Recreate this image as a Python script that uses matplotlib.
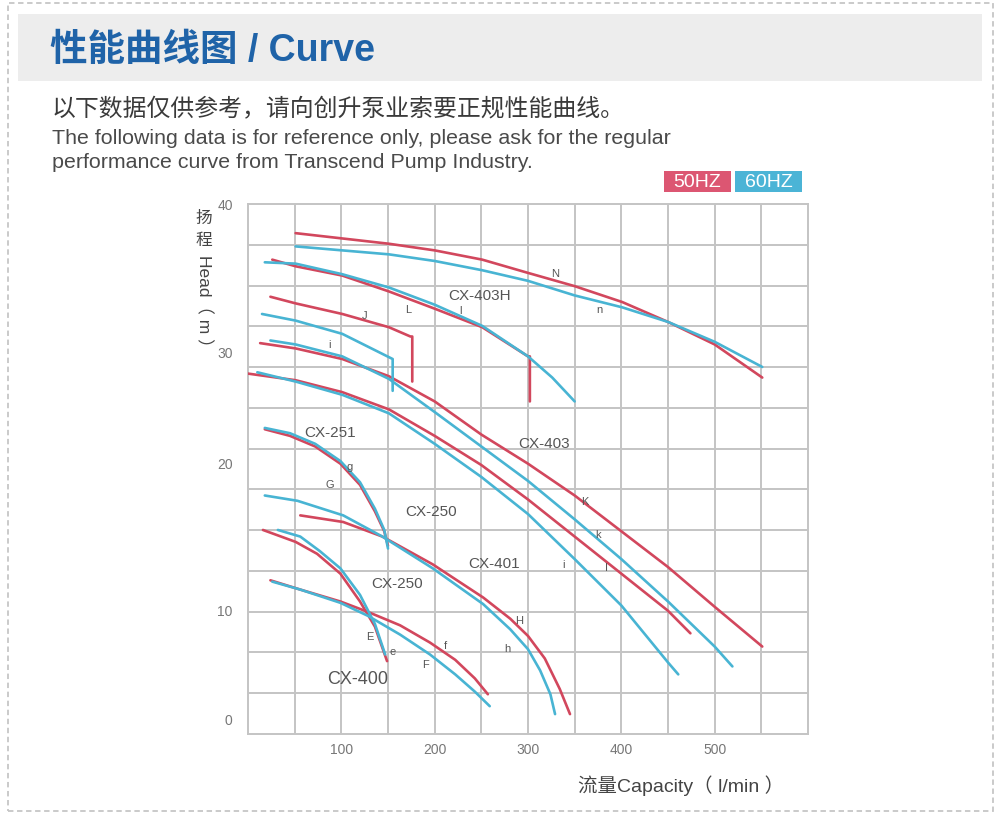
import matplotlib
matplotlib.use("Agg")
import matplotlib.pyplot as plt
from matplotlib.patches import Rectangle

CJK = ["Noto Sans CJK SC", "DejaVu Sans"]
MIX = ["Liberation Sans", "Noto Sans CJK SC"]   # latin in Helvetica-like, CJK falls through

# ---- data: flow (l/min) vs head (m) ----
# N / n  (top pair)
N_q = [51, 101, 151, 200, 251, 300, 350, 401, 450, 500, 551]
N_h = [37.8, 37.4, 37.0, 36.5, 35.8, 34.8, 33.8, 32.6, 31.1, 29.4, 26.9]
n_q = [51, 101, 151, 200, 251, 300, 350, 401, 450, 500, 551]
n_h = [36.8, 36.5, 36.2, 35.7, 35.0, 34.2, 33.1, 32.2, 31.1, 29.6, 27.7]

# L / l  (CX-403H)
L_q = [26, 51, 101, 151, 200, 251, 300, 302, 302]
L_h = [35.8, 35.3, 34.6, 33.4, 32.1, 30.7, 28.5, 28.5, 25.1]
l_q = [18, 51, 101, 151, 200, 251, 300, 326, 350]
l_h = [35.6, 35.5, 34.7, 33.7, 32.4, 30.8, 28.5, 26.9, 25.1]

# J / I
J_q = [24, 51, 101, 151, 174, 176, 176]
J_h = [33.0, 32.5, 31.7, 30.7, 30.0, 30.0, 26.6]
I_q = [15, 51, 101, 155, 155]
I_h = [31.7, 31.2, 30.2, 28.3, 25.9]

# K / k  (CX-403)
K_q = [13, 51, 101, 151, 200, 250, 300, 350, 400, 450, 500, 551]
K_h = [29.5, 29.1, 28.3, 27.0, 25.1, 22.6, 20.4, 18.0, 15.3, 12.6, 9.6, 6.6]
k_q = [24, 51, 101, 151, 200, 250, 300, 350, 400, 450, 500, 519]
k_h = [29.7, 29.4, 28.5, 26.8, 24.3, 21.7, 19.1, 16.2, 13.2, 10.0, 6.6, 5.1]

# long pair under CX-403 (I / i next to CX-401 text)
R_q = [0, 51, 101, 151, 200, 250, 300, 350, 400, 450, 474]
R_h = [27.2, 26.7, 25.8, 24.5, 22.5, 20.3, 17.7, 14.9, 12.1, 9.3, 7.6]
r_q = [10, 51, 101, 151, 200, 250, 300, 350, 400, 450, 461]
r_h = [27.3, 26.6, 25.6, 24.2, 21.9, 19.4, 16.6, 13.2, 9.7, 5.4, 4.5]

# G / g  (CX-251)
G_q = [18, 45, 72, 99, 120, 136, 146, 150]
G_h = [23.0, 22.5, 21.7, 20.4, 18.8, 16.8, 15.3, 14.2]
g_q = [18, 45, 72, 99, 120, 136, 146, 150]
g_h = [23.1, 22.7, 21.9, 20.6, 19.0, 17.0, 15.4, 14.0]

# H / h  (CX-250 upper)
H_q = [56, 102, 144, 198, 252, 281, 300, 318, 334, 345]
H_h = [16.5, 16.0, 14.9, 12.8, 10.3, 8.7, 7.4, 5.7, 3.4, 1.5]
h_q = [18, 53, 102, 144, 198, 252, 281, 300, 313, 324, 329]
h_h = [18.0, 17.6, 16.5, 14.9, 12.5, 9.8, 7.9, 6.4, 4.8, 3.0, 1.5]

# E / e  (CX-250 lower)
E_q = [16, 51, 74, 99, 120, 136, 149]
E_h = [15.4, 14.5, 13.6, 12.1, 10.0, 8.1, 5.5]
e_q = [32, 56, 77, 99, 120, 136, 147]
e_h = [15.4, 14.9, 13.8, 12.5, 10.5, 8.3, 6.0]

# F / f  (CX-400)
F_q = [24, 56, 99, 129, 163, 195, 222, 243, 257]
F_h = [11.6, 10.9, 10.0, 9.2, 8.2, 6.9, 5.6, 4.2, 3.0]
f_q = [26, 56, 99, 129, 163, 195, 222, 243, 259]
f_h = [11.5, 10.9, 9.9, 8.9, 7.5, 6.0, 4.5, 3.2, 2.1]

red_curves = [(N_q, N_h), (L_q, L_h), (J_q, J_h), (K_q, K_h), (R_q, R_h),
              (G_q, G_h), (H_q, H_h), (E_q, E_h), (F_q, F_h)]
blue_curves = [(n_q, n_h), (l_q, l_h), (I_q, I_h), (k_q, k_h), (r_q, r_h),
               (g_q, g_h), (h_q, h_h), (e_q, e_h), (f_q, f_h)]

x_ticks = [100, 200, 300, 400, 500]
y_tick_pos = [1.2, 9.4, 20.5, 28.9, 40.0]
y_tick_lab = ["0", "10", "20", "30", "40"]

# model names and curve letters: (text, q, h, size)
model_labels = [("CX-403H", 248, 33.1, 11), ("CX-403", 317, 22.0, 11),
                ("CX-251", 88, 22.8, 11), ("CX-250", 196, 16.8, 11),
                ("CX-401", 264, 12.9, 11), ("CX-250", 160, 11.4, 11),
                ("CX-400", 117, 4.2, 13)]
letter_labels = [("N", 329, 34.8), ("n", 377, 32.1), ("L", 172, 32.1), ("l", 228, 32.0),
                 ("J", 125, 31.6), ("i", 87, 29.4), ("K", 361, 17.6), ("k", 375, 15.1),
                 ("i", 338, 12.8), ("I", 384, 12.6), ("g", 109, 20.2), ("G", 88, 18.9),
                 ("H", 291, 8.6), ("h", 278, 6.5), ("E", 131, 7.4), ("e", 155, 6.3),
                 ("f", 211, 6.7), ("F", 190, 5.3)]

RED = "#d2475d"
BLUE = "#48b4d3"
GRID = "#c4c4c4"

fig = plt.figure(figsize=(10, 8.2), dpi=100)

def fx(px):
    return px / 1000

def fy(py):
    return 1 - py / 820

# outer dashed frame + grey title band
fig.patches.append(Rectangle((fx(8), fy(812)), fx(985), 808 / 820, transform=fig.transFigure,
                             fill=False, ec="#c6c6c6", lw=1.3, ls=(0, (3, 2))))
fig.patches.append(Rectangle((fx(18), fy(82)), fx(964), 67 / 820, transform=fig.transFigure,
                             fc="#ededed", ec="none"))

fig.text(fx(50), fy(51), "性能曲线图 / Curve", family=MIX, fontsize=27, fontweight="bold",
         color="#1f63a8", va="center")
fig.text(fx(52), fy(110), "以下数据仅供参考，请向创升泵业索要正规性能曲线。", family=CJK,
         fontsize=17.2, color="#3a3a3a", va="center")
fig.text(fx(52), fy(139), "The following data is for reference only, please ask for the regular",
         family="Liberation Sans", fontsize=15.4, color="#4a4a4a", va="center")
fig.text(fx(52), fy(163), "performance curve from Transcend Pump Industry.",
         family="Liberation Sans", fontsize=15.4, color="#4a4a4a", va="center")

# 50HZ / 60HZ tags
for x0, label, col in [(664, "50HZ", "#dc5672"), (735, "60HZ", "#4bb4d6")]:
    fig.patches.append(Rectangle((fx(x0), fy(193)), fx(67), 21 / 820,
                                 transform=fig.transFigure, fc=col, ec="none"))
    fig.text(fx(x0 + 33.5), fy(182.5), label, family="Liberation Sans", fontsize=14,
             color="white", ha="center", va="center")

ax = fig.add_axes([0.248, 1 - 735 / 820, 0.56, 530 / 820])
ax.set_xlim(0, 600)
ax.set_ylim(0, 40)
for gx in range(50, 600, 50):
    ax.axvline(gx, color=GRID, lw=1.4, zorder=0)
for i in range(1, 13):
    ax.axhline(40 * i / 13, color=GRID, lw=1.4, zorder=0)
for sp in ax.spines.values():
    sp.set_color(GRID)
    sp.set_linewidth(1.4)

ax.set_xticks(x_ticks)
ax.set_yticks(y_tick_pos)
ax.set_yticklabels(y_tick_lab)
ax.tick_params(length=0, labelcolor="#777777", labelsize=10)
ax.tick_params(axis="x", pad=6)
ax.tick_params(axis="y", pad=11)
for t in ax.get_xticklabels() + ax.get_yticklabels():
    t.set_family("Liberation Sans")

for q, hd in red_curves:
    ax.plot(q, hd, color=RED, lw=1.9, solid_capstyle="round", solid_joinstyle="round", zorder=3)
for q, hd in blue_curves:
    ax.plot(q, hd, color=BLUE, lw=1.9, solid_capstyle="round", solid_joinstyle="round", zorder=3)

for txt, q, hd, sz in model_labels:
    ax.text(q, hd, txt, family="Liberation Sans", fontsize=sz, color="#555555",
            ha="center", va="center", zorder=4)
for txt, q, hd in letter_labels:
    ax.text(q, hd, txt, family="Liberation Sans", fontsize=8, color="#555555",
            ha="center", va="center", zorder=4)

# axis titles: CJK upright, latin turned
fig.text(fx(204), fy(218), "扬", family=CJK, fontsize=12, color="#444444", ha="center", va="center")
fig.text(fx(204), fy(240), "程", family=CJK, fontsize=12, color="#444444", ha="center", va="center")
fig.text(fx(204), fy(305), "Head（ m ）", family=MIX, fontsize=12.5, color="#444444",
         ha="center", va="center", rotation=-90)
fig.text(fx(784), fy(786), "流量Capacity（ l/min ）", family=MIX, fontsize=14, color="#444444",
         ha="right", va="center")

fig.savefig("out.png", dpi=100)
